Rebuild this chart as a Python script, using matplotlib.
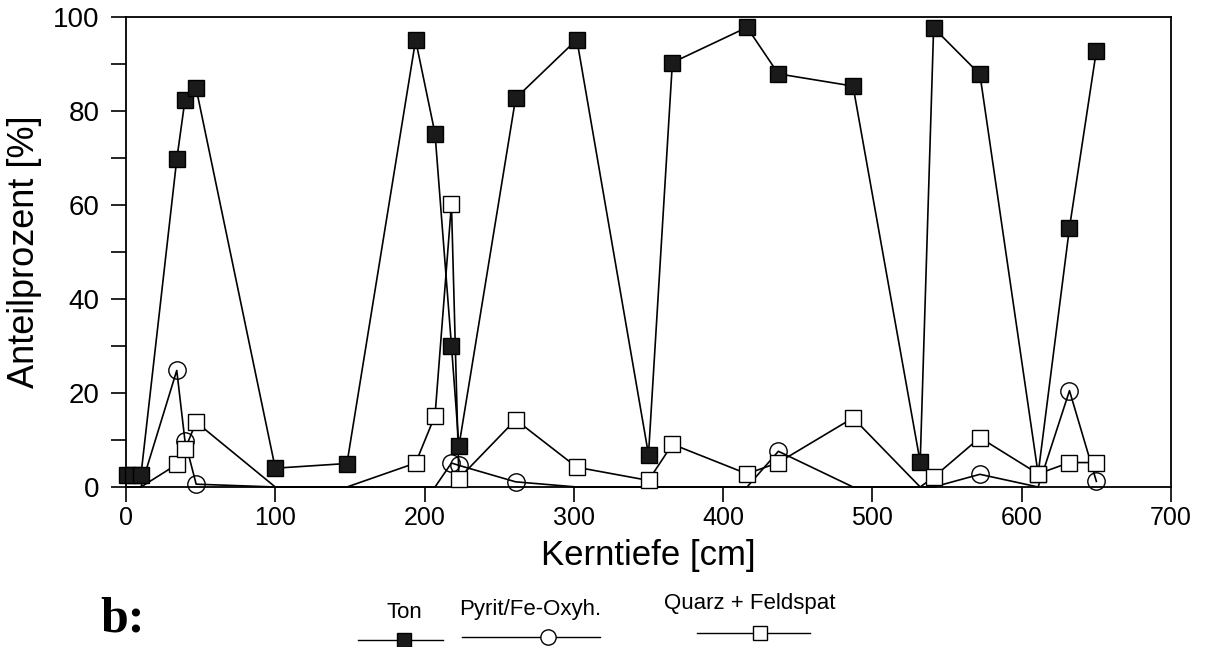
import matplotlib
matplotlib.use("Agg")
import matplotlib.pyplot as plt
import numpy as np
from matplotlib.lines import Line2D

plt.rcParams['font.family'] = ['Liberation Sans', 'DejaVu Sans']

# Kerntiefe [cm]
depth = [1, 5, 10, 34, 39.5, 47, 100, 148, 194, 207, 218, 223, 261, 302,
         350, 366, 416, 437, 487, 532, 541, 572, 611, 632, 650]
# Anteilprozent [%]
ton = [2.5, 2.5, 2.5, 69.7, 82.3, 84.8, 4.0, 5.0, 95.1, 75.2, 30.1, 8.7, 82.7, 95.2,
       6.9, 90.3, 97.8, 87.9, 85.3, 5.3, 97.7, 87.8, 2.8, 55.2, 92.8]
pyrit = [0, 0, 0, 24.8, 9.8, 0.6, 0, 0, 0, 0, 5.1, 4.6, 1.1, 0,
         0, 0, 0, 7.6, 0, 0, 0, 2.7, 0, 20.5, 1.2]
quarz = [0, 0, 0, 4.8, 8.0, 13.8, 0, 0, 5.1, 15.2, 60.2, 1.8, 14.3, 4.2,
         1.4, 9.1, 2.8, 5.2, 14.7, 0, 2.1, 10.5, 2.8, 5.2, 5.2]

series_names = ["Ton", "Pyrit/Fe-Oxyh.", "Quarz + Feldspat"]
xticks = [0, 100, 200, 300, 400, 500, 600, 700]
yticks = [0, 20, 40, 60, 80, 100]

W, H = 1205, 647
fig = plt.figure(figsize=(W / 100, H / 100), dpi=100)
ax = fig.add_axes([126 / W, 1 - 487 / H, 1045 / W, 470 / H])

lw = 1.2
x = np.array(depth, dtype=float)
t = np.array(ton, dtype=float)
p = np.array(pyrit, dtype=float)
q = np.array(quarz, dtype=float)

ax.plot(x, t, color='black', lw=lw, zorder=3, clip_on=False)
ax.plot(x, t, ls='none', marker='s', ms=11.5, mfc='#1a1a1a', mec='black',
        mew=1, zorder=4, clip_on=False)

ax.plot(x, p, color='black', lw=lw, zorder=3, clip_on=False)
pm = np.where(p > 0, p, np.nan)
ax.plot(x, pm, ls='none', marker='o', ms=12.5, mfc='none', mec='black',
        mew=1, zorder=5, clip_on=False)

ax.plot(x, q, color='black', lw=lw, zorder=3, clip_on=False)
qm = np.where(q > 0, q, np.nan)
ax.plot(x, qm, ls='none', marker='s', ms=11.5, mfc='white', mec='black',
        mew=1, zorder=5, clip_on=False)

ax.set_xlim(0, 700)
ax.set_ylim(0, 100)
ax.set_xticks(xticks)
ax.set_yticks(yticks)
ax.set_yticks(np.arange(10, 100, 20), minor=True)
ax.tick_params(axis='both', which='both', direction='out', width=1.2, length=11)
ax.tick_params(axis='x', labelsize=18, pad=3)
ax.tick_params(axis='y', labelsize=20, pad=8)
for s in ax.spines.values():
    s.set_linewidth(1.3)

ax.set_xlabel("Kerntiefe [cm]", fontsize=25)
ax.xaxis.set_label_coords(0.5, -0.11)
ax.set_ylabel("Anteilprozent [%]", fontsize=26)
ax.yaxis.set_label_coords(-0.080, 0.5)

# bottom caption and legend
fig.text(100 / W, 1 - 620 / H, "b:", fontsize=36, fontweight='bold',
         family='Liberation Serif', ha='left', va='center')

def legend_entry(label, xc, ytext, yline, x0, x1, xm, marker, mfc, ms):
    fig.text(xc / W, 1 - ytext / H, label, fontsize=16, ha='center', va='center')
    fig.add_artist(Line2D([x0 / W, x1 / W], [1 - yline / H, 1 - yline / H],
                          color='black', lw=1.0, transform=fig.transFigure))
    fig.add_artist(Line2D([xm / W], [1 - yline / H], ls='none', marker=marker,
                          ms=ms, mfc=mfc, mec='black', mew=1,
                          transform=fig.transFigure))

legend_entry(series_names[0], 404, 613, 640, 358, 443, 404, 's', '#1a1a1a', 10)
legend_entry(series_names[1], 530, 609, 637, 462, 600, 548, 'o', 'white', 11)
legend_entry(series_names[2], 750, 603, 633, 697, 810, 760, 's', 'white', 10)

fig.savefig("out.png", dpi=100)
